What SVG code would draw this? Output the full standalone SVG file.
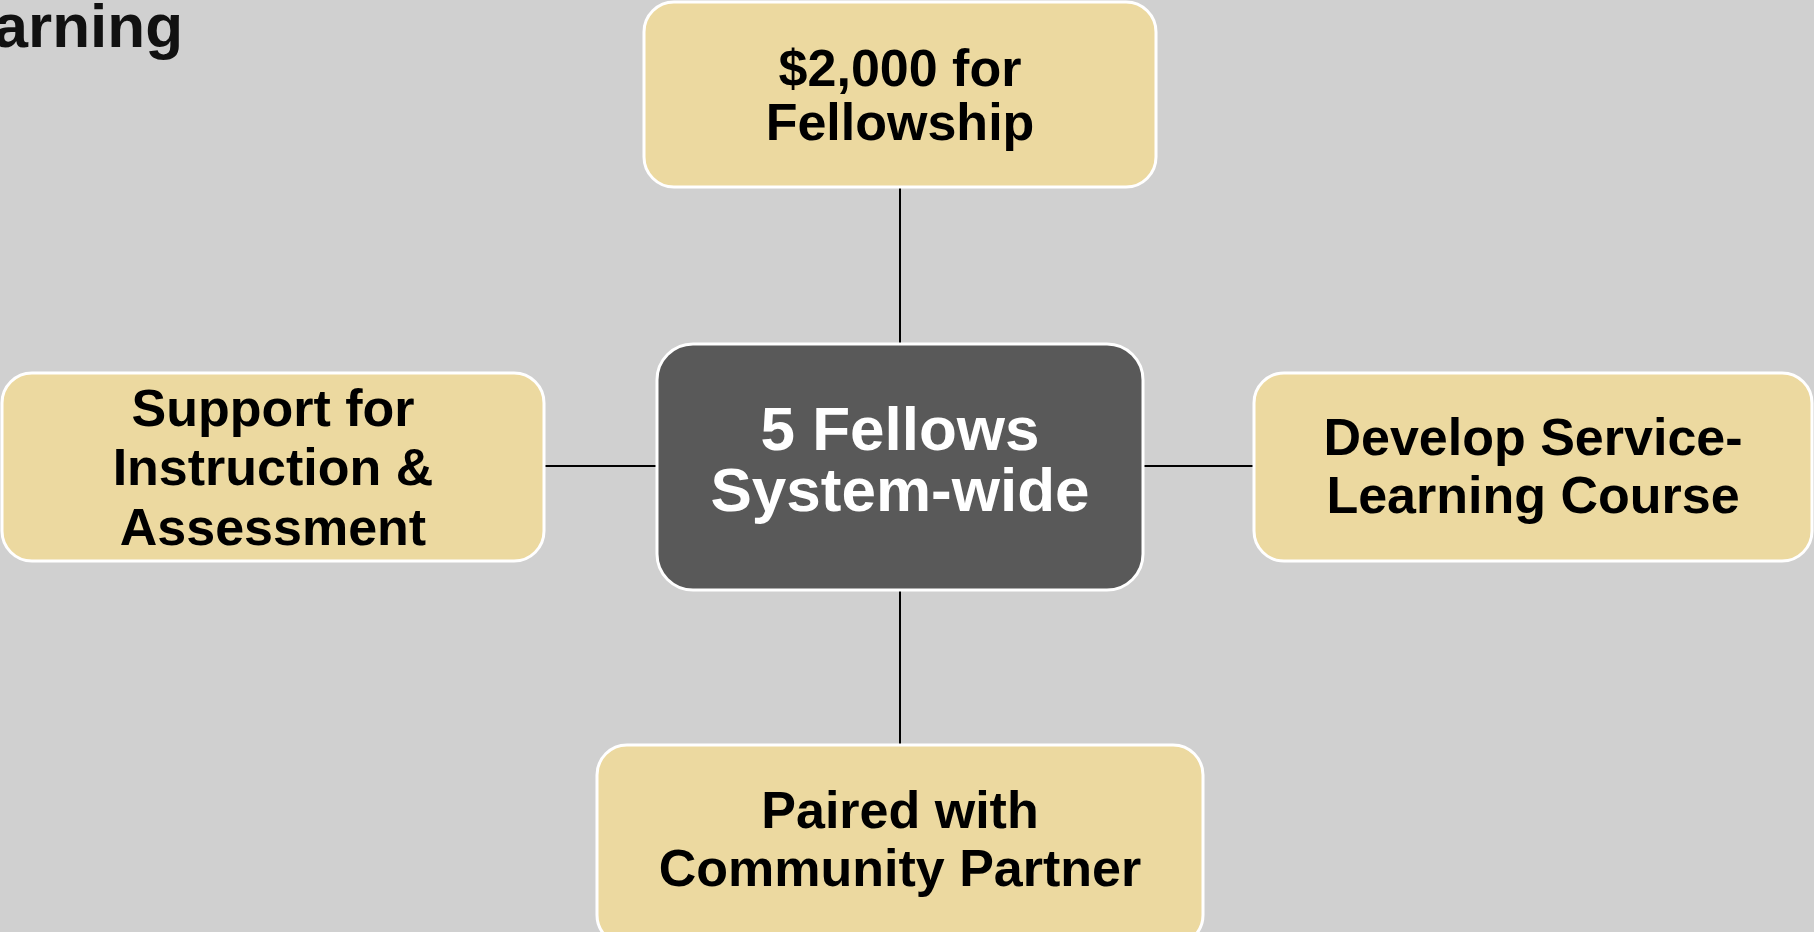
<svg xmlns="http://www.w3.org/2000/svg" width="1814" height="932" viewBox="0 0 1814 932">
<style>
.bg{fill:#d0d0d0}
.box{fill:#ecd9a0;stroke:#ffffff;stroke-width:3}
.hub{fill:#595959;stroke:#ffffff;stroke-width:3}
.t{font-family:"Liberation Sans",Arial,sans-serif;font-weight:bold;font-size:52px;fill:#000000;text-anchor:middle}
.th{font-family:"Liberation Sans",Arial,sans-serif;font-weight:bold;font-size:62px;fill:#ffffff;text-anchor:middle}
.title{font-family:"Liberation Sans",Arial,sans-serif;font-weight:bold;font-size:62px;fill:#111111;text-anchor:end}
.c{stroke:#000000;stroke-width:2;fill:none}
</style>
<rect class="bg" x="0" y="0" width="1814" height="932"/>
<text class="title" x="183" y="47">arning</text>
<g id="connectors">
<line class="c" x1="900" y1="187" x2="900" y2="344"/>
<line class="c" x1="900" y1="590" x2="900" y2="745"/>
<line class="c" x1="544" y1="466" x2="657" y2="466"/>
<line class="c" x1="1143" y1="466" x2="1254" y2="466"/>
</g>
<g id="node-center">
<rect class="hub" x="657" y="344" width="486" height="246" rx="36"/>
<text class="th" x="900" y="450">5 Fellows</text>
<text class="th" x="900" y="511">System-wide</text>
</g>
<g id="node-top">
<rect class="box" x="644" y="2" width="512" height="185" rx="30"/>
<text class="t" x="900" y="86">$2,000 for</text>
<text class="t" x="900" y="140">Fellowship</text>
</g>
<g id="node-left">
<rect class="box" x="2" y="373" width="542" height="188" rx="30"/>
<text class="t" x="273" y="426">Support for</text>
<text class="t" x="273" y="485">Instruction &amp;</text>
<text class="t" x="273" y="545">Assessment</text>
</g>
<g id="node-right">
<rect class="box" x="1254" y="373" width="558" height="188" rx="30"/>
<text class="t" x="1533" y="455">Develop Service-</text>
<text class="t" x="1533" y="513">Learning Course</text>
</g>
<g id="node-bottom">
<rect class="box" x="597" y="745" width="606" height="200" rx="30"/>
<text class="t" x="900" y="828">Paired with</text>
<text class="t" x="900" y="886">Community Partner</text>
</g>
</svg>
